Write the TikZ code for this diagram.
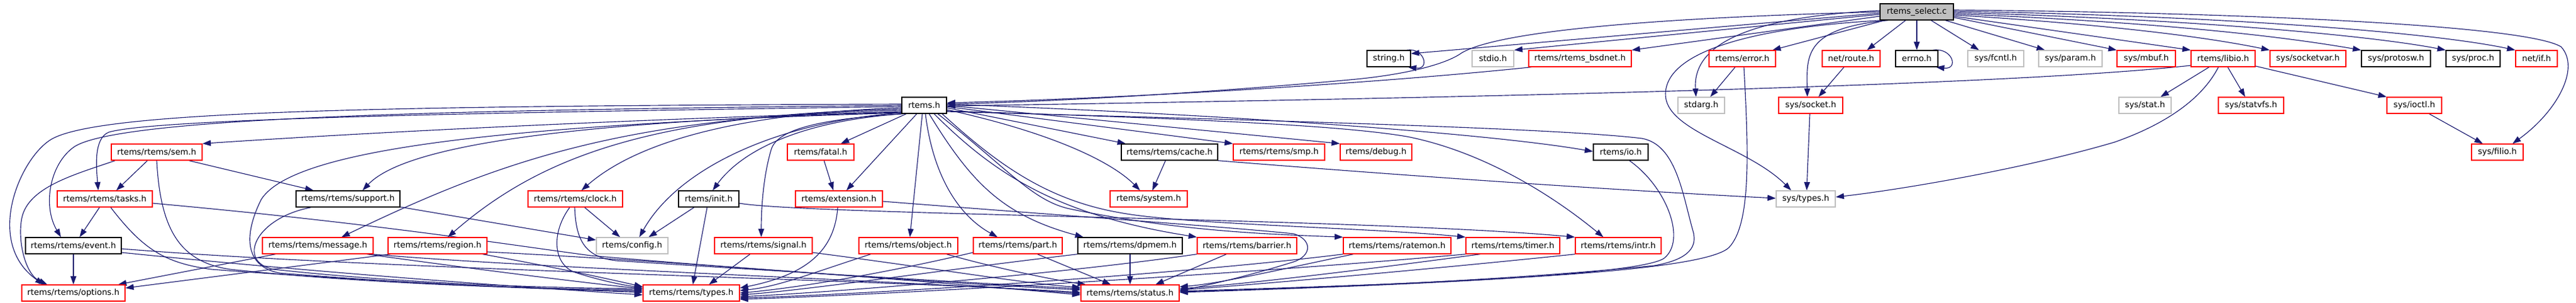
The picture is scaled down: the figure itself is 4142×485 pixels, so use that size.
\documentclass[tikz,border=0pt]{standalone}
\usepackage{fontspec}
\newfontfamily\dej{DejaVu Sans}
\usetikzlibrary{arrows.meta}
\definecolor{midblue}{HTML}{191970}
\definecolor{grey75}{HTML}{BFBFBF}
\definecolor{nodered}{HTML}{FF0000}
\pgfdeclarelayer{bg}
\pgfsetlayers{bg,main}
\tikzset{
 box/.style={draw, line width=1.33pt, minimum height=26pt, inner sep=0pt, fill=white, font={\dej\fontsize{13.3}{16}\selectfont}},
 redbox/.style={box, draw=nodered},
 blkbox/.style={box, draw=black},
 grybox/.style={box, draw=grey75},
 rootbox/.style={box, draw=black, fill=grey75},
 dep/.style={draw=midblue, line width=1.15pt, -{Triangle[length=13.3pt,width=9.3pt]}},
}
\newcommand\hdrnode[6]{\node[#2, minimum width={(#4-#3)*1pt}] (#1) at ({(#3+#4)/2},#5) {#6};}
\begin{document}
\begin{tikzpicture}[x=1pt,y=-1pt]
\useasboundingbox (0,0) rectangle (4142,485);
% row 0
\hdrnode{root}{rootbox}{3023}{3141}{19}{rtems\_select.c}
% row 1
\hdrnode{string}{blkbox}{2198}{2268}{94}{string.h}
\hdrnode{stdio}{grybox}{2367}{2434}{94}{stdio.h}
\hdrnode{bsdnet}{redbox}{2458}{2623}{94}{rtems/rtems\_bsdnet.h}
\hdrnode{error}{redbox}{2748}{2855}{94}{rtems/error.h}
\hdrnode{route}{redbox}{2930}{3023}{94}{net/route.h}
\hdrnode{errno}{blkbox}{3048}{3116}{94}{errno.h}
\hdrnode{fcntl}{grybox}{3164}{3254}{94}{sys/fcntl.h}
\hdrnode{param}{grybox}{3278}{3380}{94}{sys/param.h}
\hdrnode{mbuf}{redbox}{3404}{3498}{94}{sys/mbuf.h}
\hdrnode{libio}{redbox}{3523}{3626}{94}{rtems/libio.h}
\hdrnode{socketvar}{redbox}{3650}{3772}{94}{sys/socketvar.h}
\hdrnode{protosw}{blkbox}{3797}{3908}{94}{sys/protosw.h}
\hdrnode{proc}{blkbox}{3933}{4020}{94}{sys/proc.h}
\hdrnode{netif}{redbox}{4045}{4112}{94}{net/if.h}
% row 2
\hdrnode{rtemsh}{blkbox}{1450}{1522}{169}{rtems.h}
\hdrnode{stdarg}{grybox}{2698}{2773}{169}{stdarg.h}
\hdrnode{socket}{redbox}{2860}{2963}{169}{sys/socket.h}
\hdrnode{stat}{grybox}{3407}{3491}{169}{sys/stat.h}
\hdrnode{statvfs}{redbox}{3567}{3672}{169}{sys/statvfs.h}
\hdrnode{ioctl}{redbox}{3838}{3926}{169}{sys/ioctl.h}
% row 3
\hdrnode{sem}{redbox}{179}{325}{244}{rtems/rtems/sem.h}
\hdrnode{fatal}{redbox}{1266}{1373}{244}{rtems/fatal.h}
\hdrnode{cache}{blkbox}{1803}{1958}{244}{rtems/rtems/cache.h}
\hdrnode{smp}{redbox}{1983}{2130}{244}{rtems/rtems/smp.h}
\hdrnode{debug}{redbox}{2155}{2270}{244}{rtems/debug.h}
\hdrnode{io}{blkbox}{2562}{2650}{244}{rtems/io.h}
\hdrnode{filio}{redbox}{3974}{4057}{244}{sys/filio.h}
% row 4
\hdrnode{tasks}{redbox}{92}{245}{319}{rtems/rtems/tasks.h}
\hdrnode{support}{blkbox}{476}{643}{319}{rtems/rtems/support.h}
\hdrnode{clock}{redbox}{849}{1001}{319}{rtems/rtems/clock.h}
\hdrnode{init}{blkbox}{1091}{1188}{319}{rtems/init.h}
\hdrnode{extension}{redbox}{1279}{1419}{319}{rtems/extension.h}
\hdrnode{system}{redbox}{1785}{1909}{319}{rtems/system.h}
\hdrnode{systypes}{grybox}{2856}{2951}{319}{sys/types.h}
% row 5
\hdrnode{event}{blkbox}{41}{195}{394}{rtems/rtems/event.h}
\hdrnode{message}{redbox}{422}{600}{394}{rtems/rtems/message.h}
\hdrnode{region}{redbox}{624}{783}{394}{rtems/rtems/region.h}
\hdrnode{config}{grybox}{959}{1074}{394}{rtems/config.h}
\hdrnode{signal}{redbox}{1149}{1306}{394}{rtems/rtems/signal.h}
\hdrnode{object}{redbox}{1381}{1540}{394}{rtems/rtems/object.h}
\hdrnode{part}{redbox}{1565}{1708}{394}{rtems/rtems/part.h}
\hdrnode{dpmem}{blkbox}{1733}{1901}{394}{rtems/rtems/dpmem.h}
\hdrnode{barrier}{redbox}{1925}{2085}{394}{rtems/rtems/barrier.h}
\hdrnode{ratemon}{redbox}{2160}{2333}{394}{rtems/rtems/ratemon.h}
\hdrnode{timer}{redbox}{2357}{2508}{394}{rtems/rtems/timer.h}
\hdrnode{intr}{redbox}{2533}{2671}{394}{rtems/rtems/intr.h}
% row 6
\hdrnode{options}{redbox}{35}{201}{470}{rtems/rtems/options.h}
\hdrnode{types}{redbox}{1034}{1189}{470}{rtems/rtems/types.h}
\hdrnode{status}{redbox}{1738}{1896}{470}{rtems/rtems/status.h}

\begin{pgfonlayer}{bg}
% ---- root edges
\draw[dep] (root.west |- 0,21) -- (string.east |- 0,86);
\draw[dep] (root.west |- 0,23) -- (stdio.north east);
\draw[dep] (root.west |- 0,26) -- (bsdnet.north east);
\draw[dep] (3030,0 |- root.south) -- (2850,0 |- error.north);
\draw[dep] (3064,0 |- root.south) -- (3002,0 |- route.north);
\draw[dep] (root.south) -- (errno.north);
\draw[dep] (3108,0 |- errno.north) .. controls (3140,76) and (3150,112) .. (3113,0 |- errno.south);
\draw[dep] (2262,0 |- string.north) .. controls (2290,76) and (2300,112) .. (2264,0 |- string.south);
\draw[dep] (3105,0 |- root.south) -- (3182,0 |- fcntl.north);
\draw[dep] (3128,0 |- root.south) -- (3288,0 |- param.north);
\draw[dep] (root.east |- 0,28) -- (mbuf.north west);
\draw[dep] (root.east |- 0,26) -- (libio.north west);
\draw[dep] (root.east |- 0,24) .. controls (3400,40) and (3550,60) .. (socketvar.north west);
\draw[dep] (root.east |- 0,22) .. controls (3450,35) and (3650,55) .. (protosw.north west);
\draw[dep] (root.east |- 0,20) .. controls (3500,30) and (3800,55) .. (proc.north west);
\draw[dep] (root.east |- 0,18) .. controls (3550,25) and (3900,50) .. (netif.north west);
\draw[dep] (root.east |- 0,16) .. controls (3600,20) and (4060,40) .. (4118,75) .. controls (4150,110) and (4110,180) .. (4040,0 |- filio.north);
\draw[dep] (root.west |- 0,17) .. controls (2790,28) and (2722,80) .. (2727,0 |- stdarg.north);
\draw[dep] (3036,0 |- root.south) .. controls (2900,45) and (2905,90) .. (2906,0 |- socket.north);
\draw[dep] (3026,0 |- root.south) .. controls (2850,42) and (2680,75) .. (2678,150) .. controls (2676,210) and (2810,235) .. (2880,0 |- systypes.north);
\draw[dep] (root.west |- 0,19) .. controls (2600,30) and (2400,55) .. (2350,85) .. controls (2325,103) and (2260,120) .. (2170,128) .. controls (1950,148) and (1700,163) .. (rtemsh.east |- 0,167);
% ---- row 1 sources
\draw[dep] (2462,0 |- bsdnet.south) .. controls (2200,135) and (1800,158) .. (rtemsh.east |- 0,165);
\draw[dep] (libio.west |- 0,105) .. controls (3250,135) and (2500,155) .. (rtemsh.east |- 0,170);
\draw[dep] (3552,0 |- libio.south) -- (3474,0 |- stat.north);
\draw[dep] (3582,0 |- libio.south) -- (3610,0 |- statvfs.north);
\draw[dep] (libio.east |- 0,106) -- (ioctl.north west);
\draw[dep] (3567,0 |- libio.south) .. controls (3540,160) and (3480,200) .. (3400,228) .. controls (3250,272) and (3050,305) .. (systypes.east |- 0,316);
\draw[dep] (3906,0 |- ioctl.south) -- (3992,0 |- filio.north);
\draw[dep] (2965,0 |- route.south) -- (2924,0 |- socket.north);
\draw[dep] (2910,0 |- socket.south) -- (2905,0 |- systypes.north);
\draw[dep] (2790,0 |- error.south) -- (2750,0 |- stdarg.north);
\draw[dep] (2804,0 |- error.south) .. controls (2812,250) and (2815,360) .. (2780,397) .. controls (2740,435) and (2400,452) .. (status.east |- 0,467);
\draw[dep] (2620,0 |- io.south) .. controls (2680,300) and (2712,385) .. (2676,414) .. controls (2640,440) and (2300,456) .. (status.east |- 0,469);
\draw[dep] (cache.south east) .. controls (2300,285) and (2600,305) .. (systypes.west |- 0,318);
\draw[dep] (1874,0 |- cache.south) -- (1853,0 |- system.north);
% ---- rtems.h right / down
\draw[dep] (rtemsh.east |- 0,179) .. controls (2000,192) and (2500,205) .. (2640,222) .. controls (2695,232) and (2705,310) .. (2722,370) .. controls (2732,402) and (2705,418) .. (2660,426) .. controls (2400,452) and (2100,462) .. (status.east |- 0,468);
\draw[dep] (1457,0 |- rtemsh.south) -- (1352,0 |- fatal.north);
\draw[dep] (1474,0 |- rtemsh.south) -- (1361,0 |- extension.north);
\draw[dep] (1325,0 |- fatal.south) -- (1340,0 |- extension.north);
\draw[dep] (1483,0 |- rtemsh.south) -- (1463,0 |- object.north);
\draw[dep] (1488,0 |- rtemsh.south) .. controls (1500,280) and (1540,345) .. (1604,0 |- part.north);
\draw[dep] (1494,0 |- rtemsh.south) .. controls (1560,290) and (1610,345) .. (1742,0 |- dpmem.north);
\draw[dep] (1502,0 |- rtemsh.south) .. controls (1600,280) and (1700,345) .. (barrier.north west);
\draw[dep] (1508,0 |- rtemsh.south) .. controls (1620,270) and (1660,322) .. (1720,335) .. controls (1900,372) and (2050,376) .. (ratemon.north west);
\draw[dep] (1515,0 |- rtemsh.south) .. controls (1600,260) and (1680,320) .. (1800,341) .. controls (1900,360) and (2200,365) .. (timer.north west);
\draw[dep] (rtemsh.east |- 0,178) .. controls (1900,190) and (2150,200) .. (2262,219) .. controls (2370,240) and (2480,300) .. (2578,0 |- intr.north);
\draw[dep] (rtemsh.east |- 0,176) .. controls (1700,215) and (1790,262) .. (1833,0 |- system.north);
\draw[dep] (rtemsh.east |- 0,173) -- (1810,0 |- cache.north);
\draw[dep] (rtemsh.east |- 0,171) -- (smp.north west);
\draw[dep] (rtemsh.east |- 0,169) -- (debug.north west);
\draw[dep] (rtemsh.east |- 0,167) .. controls (2000,185) and (2400,215) .. (io.west |- 0,243);
% ---- rtems.h left
\draw[dep] (rtemsh.west |- 0,179) .. controls (1000,192) and (600,212) .. (sem.north east);
\draw[dep] (rtemsh.west |- 0,171) .. controls (800,180) and (250,190) .. (175,212) .. controls (150,222) and (155,270) .. (158,0 |- tasks.north);
\draw[dep] (rtemsh.west |- 0,169) .. controls (800,176) and (200,185) .. (120,235) .. controls (80,262) and (68,330) .. (98,0 |- event.north);
\draw[dep] (rtemsh.west |- 0,167) .. controls (600,170) and (150,178) .. (80,225) .. controls (30,258) and (-25,390) .. (70,0 |- options.north);
\draw[dep] (rtemsh.west |- 0,180) .. controls (900,195) and (650,235) .. (583,0 |- support.north);
\draw[dep] (rtemsh.west |- 0,181) .. controls (800,200) and (470,240) .. (420,320) .. controls (390,380) and (395,428) .. (450,438) .. controls (700,458) and (900,465) .. (types.west |- 0,467);
\draw[dep] (rtemsh.west |- 0,177) .. controls (1000,186) and (800,260) .. (549,0 |- message.north);
\draw[dep] (rtemsh.west |- 0,175) .. controls (1050,184) and (870,250) .. (720,0 |- region.north);
\draw[dep] (rtemsh.west |- 0,173) .. controls (1150,183) and (1010,240) .. (935,0 |- clock.north);
\draw[dep] (rtemsh.west |- 0,181) .. controls (1250,195) and (1090,270) .. (1028,0 |- config.north);
\draw[dep] (rtemsh.south west) .. controls (1280,195) and (1190,245) .. (1146,0 |- init.north);
\draw[dep] (1452,0 |- rtemsh.south) .. controls (1330,190) and (1250,205) .. (1240,240) .. controls (1228,280) and (1224,330) .. (1224,0 |- signal.north);
% ---- lower rows
\draw[dep] (237,0 |- sem.south) -- (187,0 |- tasks.north);
\draw[dep] (304,0 |- sem.south) -- (504,0 |- support.north);
\draw[dep] (185,0 |- sem.south) .. controls (120,280) and (45,300) .. (35,350) .. controls (28,385) and (40,440) .. (76,0 |- options.north);
\draw[dep] (252,0 |- sem.south) .. controls (258,370) and (290,420) .. (370,432) .. controls (600,456) and (850,463) .. (types.west |- 0,465);
\draw[dep] (160,0 |- tasks.south) -- (128,0 |- event.north);
\draw[dep] (178,0 |- tasks.south) .. controls (230,400) and (265,422) .. (340,432) .. controls (600,452) and (850,462) .. (types.west |- 0,469);
\draw[dep] (tasks.east |- 0,326) .. controls (600,358) and (800,390) .. (950,410) .. controls (1300,440) and (1600,458) .. (status.west |- 0,465);
\draw[dep] (118,0 |- event.south) -- (118,0 |- options.north);
\draw[dep] (event.east |- 0,405) .. controls (500,436) and (800,458) .. (types.west |- 0,473);
\draw[dep] (event.east |- 0,399) .. controls (600,432) and (1400,448) .. (status.west |- 0,469);
\draw[dep] (443,0 |- message.south) -- (190,0 |- options.north);
\draw[dep] (628,0 |- region.south) -- (options.east |- 0,462);
\draw[dep] (590,0 |- message.south) .. controls (750,430) and (950,455) .. (types.west |- 0,463);
\draw[dep] (598,0 |- message.south) .. controls (850,430) and (1500,452) .. (status.west |- 0,471);
\draw[dep] (776,0 |- region.south) .. controls (900,430) and (990,450) .. (types.west |- 0,460);
\draw[dep] (region.east |- 0,404) .. controls (1100,420) and (1500,452) .. (status.west |- 0,473);
\draw[dep] (support.east |- 0,332) -- (config.west |- 0,385);
\draw[dep] (500,0 |- support.south) .. controls (410,350) and (380,420) .. (440,432) .. controls (650,455) and (880,462) .. (types.west |- 0,463);
\draw[dep] (940,0 |- clock.south) -- (997,0 |- config.north);
\draw[dep] (916,0 |- clock.south) .. controls (885,375) and (890,425) .. (925,437) .. controls (965,450) and (1005,458) .. (types.west |- 0,461);
\draw[dep] (924,0 |- clock.south) .. controls (926,385) and (940,412) .. (990,418) .. controls (1300,438) and (1600,456) .. (status.west |- 0,463);
\draw[dep] (1116,0 |- init.south) -- (1043,0 |- config.north);
\draw[dep] (1137,0 |- init.south) -- (1114,0 |- types.north);
\draw[dep] (init.east |- 0,326) .. controls (1300,345) and (2200,350) .. (intr.north west);
\draw[dep] (1206,0 |- signal.south) -- (1140,0 |- types.north);
\draw[dep] (signal.east |- 0,405) .. controls (1500,430) and (1650,455) .. (status.west |- 0,461);
\draw[dep] (1347,0 |- extension.south) .. controls (1342,400) and (1300,440) .. (types.east |- 0,462);
\draw[dep] (extension.east |- 0,323) .. controls (1700,345) and (2000,366) .. (2080,375) .. controls (2110,384) and (2110,410) .. (2080,420) .. controls (2000,445) and (1930,460) .. (status.east |- 0,466);
\draw[dep] (1400,0 |- object.south) .. controls (1300,440) and (1250,460) .. (types.east |- 0,466);
\draw[dep] (1522,0 |- object.south) .. controls (1600,430) and (1700,450) .. (1746,0 |- status.north);
\draw[dep] (part.west |- 0,405) .. controls (1450,432) and (1300,460) .. (types.east |- 0,470);
\draw[dep] (1668,0 |- part.south) -- (1786,0 |- status.north);
\draw[dep] (dpmem.south west) .. controls (1500,435) and (1300,465) .. (types.east |- 0,473);
\draw[dep] (1817,0 |- dpmem.south) -- (1817,0 |- status.north);
\draw[dep] (barrier.south west) .. controls (1700,440) and (1350,468) .. (types.east |- 0,476);
\draw[dep] (1972,0 |- barrier.south) -- (1858,0 |- status.north);
\draw[dep] (ratemon.south west) .. controls (1900,440) and (1400,472) .. (types.east |- 0,478);
\draw[dep] (2176,0 |- ratemon.south) .. controls (2060,432) and (1960,455) .. (status.east |- 0,460);
\draw[dep] (timer.south west) .. controls (2000,440) and (1400,474) .. (types.east |- 0,480);
\draw[dep] (2380,0 |- timer.south) .. controls (2200,432) and (2000,456) .. (status.east |- 0,463);
\draw[dep] (intr.south west) .. controls (2300,432) and (2000,458) .. (status.east |- 0,465);
\end{pgfonlayer}
\end{tikzpicture}
\end{document}
